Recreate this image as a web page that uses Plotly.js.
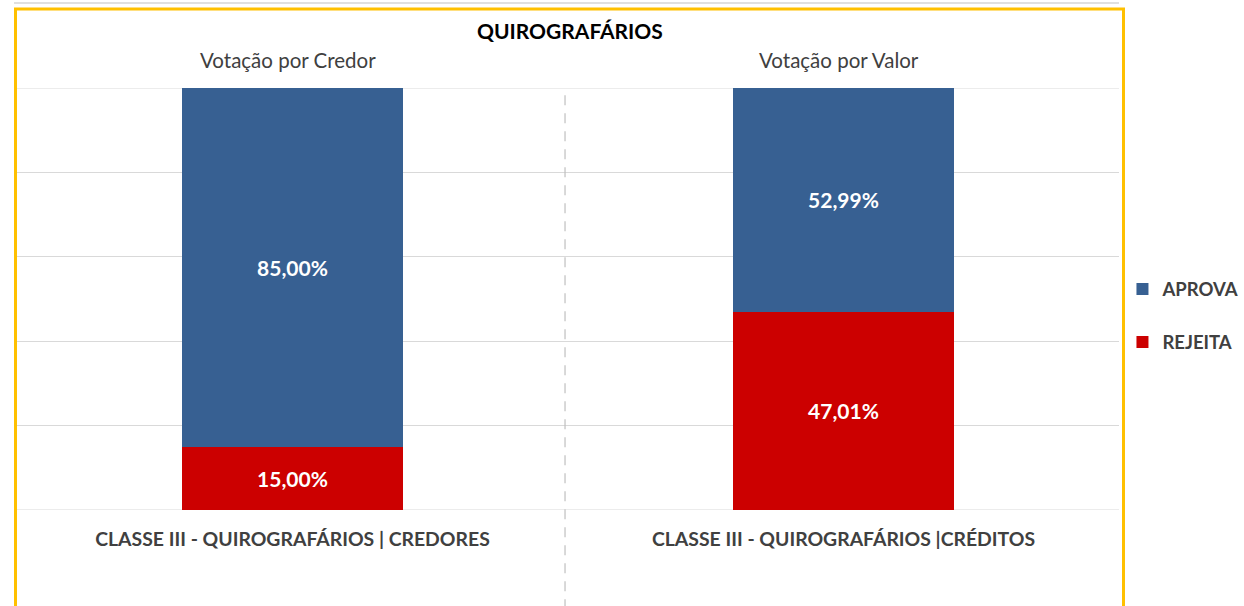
<!DOCTYPE html>
<html>
<head>
<meta charset="utf-8">
<script src="https://cdn.plot.ly/plotly-3.0.1.min.js"></script>
<style>html,body{margin:0;padding:0;background:#fff;}#chart{width:1244px;height:606px;}</style>
</head>
<body>
<div id="chart"></div>
<script>
const categories = ["CLASSE III - QUIROGRAFÁRIOS | CREDORES", "CLASSE III - QUIROGRAFÁRIOS |CRÉDITOS"];
const subtitles = ["Votação por Credor", "Votação por Valor"];
const rejeita = [15.00, 47.01];
const aprova = [85.00, 52.99];
const seriesNames = ["REJEITA", "APROVA"];
const chartTitle = "QUIROGRAFÁRIOS";

const fmt = v => v.toFixed(2).replace('.', ',') + '%';
const FONT = 'Lato, "Open Sans", sans-serif';

const traces = [
  {type:'bar', name:seriesNames[0], x:categories, y:rejeita, text:rejeita.map(fmt),
   marker:{color:'#CC0000'}, legendgroup:'r', legendrank:2},
  {type:'bar', name:seriesNames[1], x:categories, y:aprova, text:aprova.map(fmt),
   marker:{color:'#376092'}, legendgroup:'a', legendrank:1}
].map(t => Object.assign(t, {
  textposition:'inside', insidetextanchor:'middle', constraintext:'none',
  textfont:{color:'#ffffff', size:21, family:FONT, weight:'bold'},
  hoverinfo:'none'
}));

const annotations = subtitles.map((s,i) => ({
  xref:'x', yref:'paper', x:categories[i], y:1.066, xshift:-5, text:s, showarrow:false,
  font:{size:20.5, color:'#404040', family:FONT}, xanchor:'center', yanchor:'middle'
}));
annotations.push({
  xref:'paper', yref:'paper', x:0.5018, y:1.137, text:'<b>'+chartTitle+'</b>', showarrow:false,
  font:{size:21, color:'#000000', family:FONT}, xanchor:'center', yanchor:'middle'
});

const layout = {
  width:1244, height:606,
  margin:{l:17, r:125, t:88, b:96, autoexpand:false},
  paper_bgcolor:'#ffffff', plot_bgcolor:'#ffffff',
  barmode:'stack', bargap:0.6,
  showlegend:true,
  legend:{xref:'container', yref:'container', x:0.9023, y:0.4785, xanchor:'left', yanchor:'middle',
    traceorder:'grouped', tracegroupgap:26, bgcolor:'rgba(0,0,0,0)',
    font:{size:18.5, color:'#404040', family:FONT, weight:'bold'}, itemwidth:30},
  xaxis:{type:'category', showgrid:false, zeroline:false, showline:false,
    ticks:'outside', ticklen:12, tickcolor:'rgba(0,0,0,0)',
    tickfont:{size:19.4, color:'#404040', family:FONT, weight:'bold'}},
  yaxis:{range:[0,100], dtick:20, showgrid:true, gridcolor:'#d9d9d9', gridwidth:1,
    showticklabels:false, zeroline:false, showline:false, fixedrange:true},
  annotations:annotations,
  shapes:[
    {type:'line', xref:'paper', yref:'y', x0:0, x1:1, y0:100, y1:100, line:{color:'#d9d9d9', width:1}, layer:'below'},
    {type:'line', xref:'paper', yref:'y', x0:0, x1:1, y0:0, y1:0, line:{color:'#d9d9d9', width:1}, layer:'below'},
    {type:'line', xref:'paper', yref:'paper', x0:-0.0027, x1:1.0, y0:1.2014, y1:1.2014,
     line:{color:'#e0e0e0', width:2}},
    {type:'line', xref:'paper', yref:'paper', x0:0.4973, x1:0.4973, y0:0.983, y1:-0.24,
     line:{color:'#bfbfbf', width:1.2, dash:'10px,8px'}},
    {type:'rect', xref:'paper', yref:'paper', x0:-0.00136, x1:1.00408, y0:-0.25, y1:1.1872,
     line:{color:'#FFC000', width:3}, fillcolor:'rgba(0,0,0,0)', layer:'above'}
  ]
};

Plotly.newPlot('chart', traces, layout, {displayModeBar:false, staticPlot:true});
</script>
</body>
</html>
